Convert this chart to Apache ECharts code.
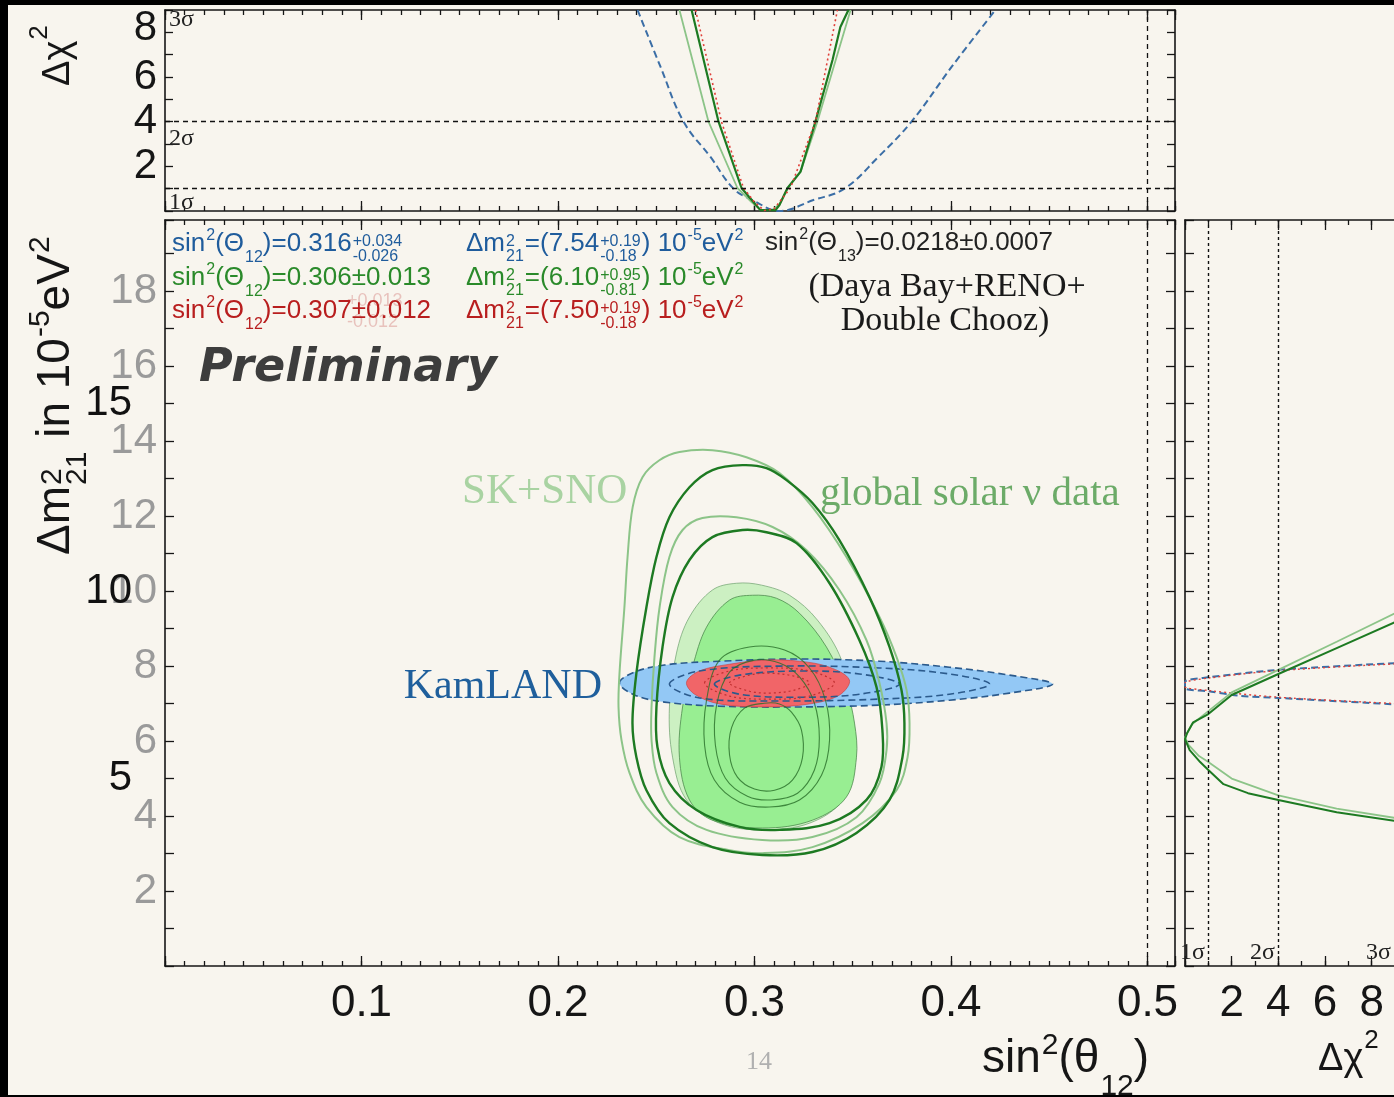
<!DOCTYPE html>
<html>
<head>
<meta charset="utf-8">
<style>
html, body { margin: 0; padding: 0; background: #000; }
#chart { width: 1394px; height: 1097px; }
</style>
<script src="https://cdn.jsdelivr.net/npm/echarts@6/dist/echarts.min.js"></script>
</head>
<body>
<div id="chart"></div>
<script>
// ---- top panel: delta chi2 vs sin2(theta12) ----
const topKamLAND = [[0.2405, 9.0], [0.2522, 6.45], [0.2639, 4.0], [0.2776, 2.42], [0.2893, 1.0], [0.299, 0.49], [0.3127, 0.0], [0.330, 0.49], [0.3458, 1.0], [0.363, 2.42], [0.3799, 4.0], [0.4003, 6.45], [0.4226, 9.0]];
const topSKSNO = [[0.2618, 9.0], [0.2766, 4.0], [0.2913, 1.03], [0.2985, 0.4], [0.303, 0.05], [0.309, 0.05], [0.3127, 0.3], [0.317, 1.03], [0.3236, 1.8], [0.332, 4.0], [0.3489, 9.0]];
const topSolar = [[0.268, 9.0], [0.2817, 4.0], [0.2934, 1.03], [0.299, 0.45], [0.303, 0.04], [0.3107, 0.04], [0.3127, 0.27], [0.3168, 1.03], [0.3234, 1.75], [0.331, 4.0], [0.3397, 6.76], [0.3437, 8.24], [0.3478, 9.0]];
const topCombined = [[0.27, 9.0], [0.2832, 4.0], [0.2944, 1.03], [0.3, 0.4], [0.305, 0.02], [0.31, 0.1], [0.3183, 1.03], [0.331, 4.0], [0.3422, 9.0]];

// ---- right panel: delta chi2 vs dm2_21 ----
const rightSolar = [[9, 9.17], [6.5, 8.48], [4, 7.79], [2, 7.23], [1, 6.72], [0.35, 6.5], [0.08, 6.2], [0, 6.05], [0.2, 5.76], [0.65, 5.44], [1, 5.23], [1.65, 4.85], [2.7, 4.61], [4, 4.43], [6.5, 4.1], [9, 3.87]];
const rightSKSNO = [[9, 9.41], [6.5, 8.65], [4, 7.9], [2, 7.3], [1, 6.8], [0.3, 6.45], [0, 6.1], [0.15, 5.9], [0.6, 5.6], [1, 5.44], [2, 5.0], [4, 4.55], [6.5, 4.2], [9, 3.95]];
const rightKamLAND = [[9, 8.08], [4, 7.9], [1, 7.7], [0, 7.58], [0, 7.41], [1, 7.33], [2.3, 7.21], [4, 7.15], [9, 6.98]];
const rightCombined = [[9, 8.06], [4, 7.88], [1, 7.68], [0, 7.55], [0, 7.45], [1, 7.35], [4, 7.17], [9, 7.0]];

// ---- main panel contours [sin2, dm2] ----
const skSno3 = [[0.2618, 13.71], [0.2516, 13.49], [0.243, 13.04], [0.238, 12.24], [0.2354, 10.91], [0.2338, 9.57], [0.2313, 7.81], [0.2308, 6.91], [0.2323, 6.03], [0.2364, 5.15], [0.245, 4.24], [0.2618, 3.44], [0.2873, 3.09], [0.304, 3.01], [0.3295, 3.17], [0.355, 3.81], [0.3723, 4.69], [0.3779, 5.57], [0.3789, 6.48], [0.3774, 7.36], [0.3723, 8.24], [0.3636, 9.31], [0.3468, 10.91], [0.3295, 12.24], [0.3127, 13.15], [0.2959, 13.57], [0.2786, 13.76]];
const solar3 = [[0.2939, 13.36], [0.2786, 13.23], [0.2669, 12.77], [0.2567, 11.97], [0.2501, 10.91], [0.245, 9.57], [0.2399, 7.81], [0.2379, 6.48], [0.2399, 5.57], [0.245, 4.69], [0.2567, 3.81], [0.2786, 3.17], [0.304, 2.96], [0.3295, 3.04], [0.3519, 3.55], [0.3687, 4.43], [0.3753, 5.57], [0.3763, 6.48], [0.3748, 7.36], [0.3687, 8.51], [0.3585, 9.84], [0.3432, 11.36], [0.3295, 12.35], [0.3163, 12.96], [0.3061, 13.28]];
const skSno2 = [[0.2735, 11.95], [0.2634, 11.63], [0.2567, 10.91], [0.2517, 9.57], [0.2491, 8.24], [0.2476, 6.91], [0.2476, 6.03], [0.2501, 5.15], [0.2583, 4.24], [0.2756, 3.63], [0.304, 3.36], [0.3295, 3.44], [0.3519, 3.97], [0.3636, 4.88], [0.3672, 5.76], [0.3672, 6.48], [0.3636, 7.55], [0.357, 8.69], [0.3432, 10.03], [0.3265, 11.09], [0.3092, 11.71], [0.2908, 11.97]];
const solar2 = [[0.2939, 11.63], [0.2786, 11.44], [0.2669, 10.83], [0.2583, 9.84], [0.2532, 8.51], [0.2501, 6.91], [0.2506, 5.84], [0.2567, 4.88], [0.2705, 4.16], [0.2924, 3.71], [0.3127, 3.63], [0.3382, 3.81], [0.357, 4.43], [0.3646, 5.31], [0.3651, 6.29], [0.3621, 7.44], [0.3534, 8.69], [0.3382, 10.21], [0.3214, 11.28], [0.3061, 11.57]];
const paleFill = [[0.2908, 10.21], [0.2786, 10.03], [0.2669, 9.31], [0.2603, 8.35], [0.2567, 6.91], [0.2583, 5.57], [0.2654, 4.43], [0.2822, 3.81], [0.304, 3.63], [0.328, 3.81], [0.3448, 4.43], [0.3499, 5.57], [0.3489, 6.83], [0.3443, 8.16], [0.332, 9.23], [0.3178, 9.89], [0.3036, 10.16]];
const brightFill = [[0.299, 9.89], [0.2873, 9.76], [0.2756, 9.04], [0.2684, 7.97], [0.2634, 6.91], [0.2618, 5.57], [0.2669, 4.43], [0.2786, 3.89], [0.304, 3.68], [0.3295, 3.89], [0.3468, 4.51], [0.3519, 5.57], [0.3509, 6.48], [0.3468, 7.36], [0.3366, 8.51], [0.3229, 9.41], [0.3112, 9.81]];
const loopA = [[0.2974, 8.51], [0.2822, 8.16], [0.2756, 7.09], [0.2746, 5.89], [0.2796, 4.96], [0.2924, 4.37], [0.3076, 4.24], [0.3229, 4.43], [0.3341, 5.09], [0.3382, 6.03], [0.3361, 7.09], [0.328, 7.95], [0.3153, 8.43]];
const loopB = [[0.2999, 8.16], [0.2873, 7.84], [0.2807, 6.96], [0.2801, 5.89], [0.2852, 5.01], [0.2964, 4.53], [0.3086, 4.43], [0.3219, 4.61], [0.3305, 5.23], [0.333, 6.08], [0.3305, 7.01], [0.3229, 7.71], [0.3127, 8.08]];
const loopC = [[0.3051, 7.01], [0.2949, 6.88], [0.2883, 6.35], [0.2873, 5.63], [0.2913, 5.04], [0.3, 4.72], [0.3102, 4.69], [0.3193, 4.96], [0.3244, 5.55], [0.3239, 6.29], [0.3188, 6.77], [0.3127, 6.99]];
const kam3 = [[0.2313, 7.55], [0.2389, 7.84], [0.2542, 8.03], [0.2822, 8.13], [0.3229, 8.19], [0.3636, 8.13], [0.3992, 7.97], [0.4298, 7.76], [0.4517, 7.52], [0.4298, 7.28], [0.3992, 7.09], [0.3636, 6.96], [0.3229, 6.91], [0.2822, 6.93], [0.2542, 7.04], [0.2389, 7.23]];
const kam2 = [[0.2567, 7.52], [0.272, 7.87], [0.3127, 8.0], [0.3636, 7.95], [0.3992, 7.79], [0.4196, 7.52], [0.3992, 7.25], [0.3636, 7.12], [0.3127, 7.07], [0.272, 7.15]];
const kam1 = [[0.2796, 7.52], [0.2924, 7.76], [0.3229, 7.87], [0.3534, 7.79], [0.3738, 7.52], [0.3534, 7.25], [0.3229, 7.17], [0.2924, 7.25]];
const comb3 = [[0.2654, 7.57], [0.272, 7.87], [0.2873, 8.05], [0.3051, 8.16], [0.3229, 8.13], [0.3382, 7.97], [0.3483, 7.63], [0.3433, 7.23], [0.328, 6.99], [0.3051, 6.91], [0.2822, 6.99], [0.2695, 7.25]];
const comb2 = [[0.2746, 7.55], [0.2873, 7.87], [0.3076, 7.95], [0.328, 7.87], [0.3407, 7.55], [0.328, 7.2], [0.3076, 7.12], [0.2873, 7.2]];
const comb1 = [[0.2873, 7.55], [0.2975, 7.76], [0.3076, 7.81], [0.3203, 7.73], [0.328, 7.55], [0.3203, 7.36], [0.3076, 7.28], [0.2975, 7.33]];

const xTickLabels = ['0.1', '0.2', '0.3', '0.4', '0.5'];
const chiTickLabels = ['2', '4', '6', '8'];

const SANS = '"Liberation Sans", Arial, sans-serif';
const SERIF = '"Liberation Serif", "Times New Roman", serif';
const INK = '#161616';

// text measuring for the formula-like labels
const mctx = document.createElement('canvas').getContext('2d');
function tw(t, font) { mctx.font = font; return mctx.measureText(t).width; }

function txt(t, font, color, x, y, align) {
  return { type: 'text', x: x, y: y, silent: true, z: 50,
    style: { text: t, font: font, fill: color, align: align || 'left', verticalAlign: 'middle' } };
}

// parts: string | {sup} | {sub} | {up, dn}; y is the baseline
function mathText(x, y, parts, o) {
  const big = o.size + 'px ' + o.family, sm = o.small + 'px ' + o.family;
  const out = [];
  let cx = x;
  parts.forEach(function (p) {
    if (typeof p === 'string') {
      out.push(txt(p, big, o.color, cx, y - 0.35 * o.size)); cx += tw(p, big);
    } else if (p.sup !== undefined) {
      out.push(txt(p.sup, sm, o.color, cx + 1, y - (o.supDy || 0.68) * o.size)); cx += tw(p.sup, sm) + 1;
    } else if (p.sub !== undefined) {
      out.push(txt(p.sub, sm, o.color, cx + 1, y + (o.subDy || 0.2) * o.size)); cx += tw(p.sub, sm) + 1;
    } else {
      out.push(txt(p.up, sm, o.color, cx + 1, y - 0.42 * o.size));
      out.push(txt(p.dn, sm, o.color, cx + 1, y + 0.12 * o.size));
      cx += Math.max(tw(p.up, sm), tw(p.dn, sm)) + 2;
    }
  });
  return out;
}

const legendOpt = { size: 26, small: 16, family: SANS, subDy: 0.17 };
function opt(color) { return Object.assign({}, legendOpt, { color: color }); }
const BLUE = '#1f5c9c', GREEN = '#2a8a2a', RED = '#b81e1e';

let graphics = [
  { type: 'rect', z: -10, silent: true, shape: { x: 8, y: 5, width: 1386, height: 1090 }, style: { fill: '#f8f5ee' } }
];
graphics = graphics.concat(
  mathText(172, 253, ['sin', { sup: '2' }, '(Θ', { sub: '12' }, ')=0.316', { up: '+0.034', dn: '-0.026' }], opt(BLUE)),
  mathText(466, 253, ['Δm', { up: '2', dn: '21' }, '=(7.54', { up: '+0.19', dn: '-0.18' }, ') 10', { sup: '-5' }, 'eV', { sup: '2' }], opt(BLUE)),
  mathText(172, 287, ['sin', { sup: '2' }, '(Θ', { sub: '12' }, ')=0.306±0.013'], opt(GREEN)),
  mathText(466, 287, ['Δm', { up: '2', dn: '21' }, '=(6.10', { up: '+0.95', dn: '-0.81' }, ') 10', { sup: '-5' }, 'eV', { sup: '2' }], opt(GREEN)),
  [txt('+0.013', '18px ' + SANS, 'rgba(190,60,60,0.28)', 347, 301), txt('-0.012', '18px ' + SANS, 'rgba(190,60,60,0.28)', 347, 322)],
  mathText(172, 320, ['sin', { sup: '2' }, '(Θ', { sub: '12' }, ')=0.307±0.012'], opt(RED)),
  mathText(466, 320, ['Δm', { up: '2', dn: '21' }, '=(7.50', { up: '+0.19', dn: '-0.18' }, ') 10', { sup: '-5' }, 'eV', { sup: '2' }], opt(RED)),
  mathText(765, 252, ['sin', { sup: '2' }, '(Θ', { sub: '13' }, ')=0.0218±0.0007'], opt('#222')),
  [
    txt('(Daya Bay+RENO+', '34px ' + SERIF, '#1a1a1a', 947, 287, 'center'),
    txt('Double Chooz)', '34px ' + SERIF, '#1a1a1a', 945, 321, 'center'),
    txt('Preliminary', 'italic bold 46px "DejaVu Sans", sans-serif', '#3d3d3d', 199, 369),
    txt('SK+SNO', '43px ' + SERIF, '#a9d3a2', 462, 492),
    txt('global solar ν data', '41px ' + SERIF, '#6cab68', 820, 494),
    txt('KamLAND', '42px ' + SERIF, '#1f5f9c', 602, 687, 'right'),
    txt('3σ', '24px ' + SERIF, '#222', 169, 20),
    txt('2σ', '24px ' + SERIF, '#222', 169, 139),
    txt('1σ', '24px ' + SERIF, '#222', 169, 203),
    txt('1σ', '24px ' + SERIF, '#222', 1180, 953),
    txt('2σ', '24px ' + SERIF, '#222', 1250, 953),
    txt('3σ', '24px ' + SERIF, '#222', 1366, 953),
    txt('14', '26px ' + SERIF, '#b0b0b0', 759, 1062, 'center')
  ],
  mathText(982, 1075, ['sin', { sup: '2' }, '(θ', { sub: '12' }, ')'], { size: 46, small: 30, family: SANS, color: INK, supDy: 0.64, subDy: 0.26 }),
  mathText(1318, 1073, ['Δχ', { sup: '2' }], { size: 38, small: 26, family: SANS, color: INK, supDy: 0.85 }),
  [
    { type: 'group', x: 72, y: 555, rotation: Math.PI / 2,
      children: mathText(0, 0, ['Δm', { up: '2', dn: '21' }, ' in 10', { sup: '-5' }, 'eV', { sup: '2' }], { size: 46, small: 30, family: SANS, color: INK }) },
    { type: 'group', x: 72, y: 86, rotation: Math.PI / 2,
      children: mathText(0, 0, ['Δχ', { sup: '2' }], { size: 38, small: 26, family: SANS, color: INK, supDy: 0.85 }) }
  ]
);

function tickAxis(grid, pos, min, max, interval, len, showLine) {
  return {
    type: 'value', gridIndex: grid, position: pos, min: min, max: max, interval: interval,
    axisLine: { show: showLine, onZero: false, lineStyle: { color: INK, width: 1.6 } },
    axisTick: { show: true, inside: true, length: len, lineStyle: { color: INK, width: 1.3 } },
    axisLabel: { show: false },
    splitLine: { show: false }
  };
}

const SMAX = 0.514, MMAX = 19.9, CMAX = 9;

const xMainLabels = tickAxis(1, 'bottom', 0, SMAX, 0.1, 10, true);
xMainLabels.axisLabel = {
  show: true, margin: 16, fontSize: 44, fontFamily: SANS, color: INK,
  formatter: function (v) {
    const r = Math.round(v * 10);
    return (r >= 1 && r <= 5 && Math.abs(v * 10 - r) < 1e-6) ? xTickLabels[r - 1] : '';
  }
};
const xChiLabels = tickAxis(2, 'bottom', 0, CMAX, 2, 10, true);
xChiLabels.axisLabel = {
  show: true, margin: 16, fontSize: 44, fontFamily: SANS, color: INK,
  formatter: function (v) {
    const i = chiTickLabels.indexOf(String(v));
    return i >= 0 ? chiTickLabels[i] : '';
  }
};

const yTop = tickAxis(0, 'left', 0, CMAX, 1, 8, true);
yTop.axisLabel = {
  show: true, margin: 8, fontSize: 42, fontFamily: SANS, color: INK,
  formatter: function (v) {
    if (v === 8) return '{u|8}';
    return (v > 0 && v < 8 && v % 2 === 0) ? String(v) : '';
  },
  rich: { u: { fontSize: 42, fontFamily: SANS, color: INK, padding: [0, 0, 8, 0] } }
};
const yMainGrey = tickAxis(1, 'left', 0, MMAX, 1, 9, true);
yMainGrey.axisLabel = {
  show: true, margin: 8, fontSize: 42, fontFamily: SANS, color: '#9a9a9a',
  formatter: function (v) { return (v > 0 && v < 19 && v % 2 === 0) ? String(v) : ''; }
};
const yMainBlack = {
  type: 'value', gridIndex: 1, position: 'left', min: 0, max: MMAX, interval: 5,
  axisLine: { show: false }, axisTick: { show: false }, splitLine: { show: false },
  axisLabel: { show: true, margin: 33, fontSize: 42, fontFamily: SANS, color: '#111',
    formatter: function (v) { return (v === 5 || v === 10 || v === 15) ? String(v) : ''; } }
};

const markStyle = { silent: true, symbol: ['none', 'none'], label: { show: false }, animation: false };

function contour(points, style) {
  return {
    type: 'custom', coordinateSystem: 'cartesian2d', xAxisIndex: 5, yAxisIndex: 2,
    silent: true, clip: true, data: [points[0]],
    renderItem: function (params, api) {
      return { type: 'polygon', shape: { points: points.map(function (p) { return api.coord(p); }), smooth: 0.35 }, style: style };
    }
  };
}

const lightLine = { fill: 'none', stroke: '#8cc488', lineWidth: 2 };
const darkLine = { fill: 'none', stroke: '#1d7a22', lineWidth: 2.4 };
const thinLine = { fill: 'none', stroke: 'rgba(40,110,40,0.8)', lineWidth: 1.1 };

const option = {
  animation: false,
  backgroundColor: '#000',
  graphic: { elements: graphics },
  grid: [
    { left: 165, top: 10, width: 1010, height: 201, outerBoundsMode: 'none' },
    { left: 165, top: 220, width: 1010, height: 746, outerBoundsMode: 'none' },
    { left: 1185, top: 220, width: 210, height: 746, outerBoundsMode: 'none' }
  ],
  xAxis: [
    tickAxis(0, 'bottom', 0, SMAX, 0.01, 5, false),
    tickAxis(0, 'bottom', 0, SMAX, 0.1, 10, true),
    tickAxis(0, 'top', 0, SMAX, 0.01, 5, false),
    tickAxis(0, 'top', 0, SMAX, 0.1, 10, true),
    tickAxis(1, 'bottom', 0, SMAX, 0.01, 5, false),
    xMainLabels,
    tickAxis(1, 'top', 0, SMAX, 0.01, 5, false),
    tickAxis(1, 'top', 0, SMAX, 0.1, 10, true),
    tickAxis(2, 'bottom', 0, CMAX, 1, 5, false),
    xChiLabels,
    tickAxis(2, 'top', 0, CMAX, 1, 5, false),
    tickAxis(2, 'top', 0, CMAX, 2, 10, true)
  ],
  yAxis: [
    yTop,
    tickAxis(0, 'right', 0, CMAX, 1, 8, true),
    yMainGrey,
    yMainBlack,
    tickAxis(1, 'right', 0, MMAX, 1, 9, true),
    tickAxis(2, 'left', 0, MMAX, 1, 9, true)
  ],
  series: [
    // top panel
    { type: 'line', name: 'KamLAND', xAxisIndex: 1, yAxisIndex: 0, data: topKamLAND, symbol: 'none', smooth: 0.4,
      lineStyle: { color: '#3b6ea6', width: 2, type: [7, 4] },
      markLine: Object.assign({}, markStyle, { lineStyle: { color: '#111', width: 1.3, type: [5, 4] },
        data: [{ yAxis: 1 }, { yAxis: 4 }, { xAxis: 0.5 }] }) },
    { type: 'line', name: 'SK+SNO', xAxisIndex: 1, yAxisIndex: 0, data: topSKSNO, symbol: 'none',
      lineStyle: { color: '#8cc488', width: 1.8 } },
    { type: 'line', name: 'global solar', xAxisIndex: 1, yAxisIndex: 0, data: topSolar, symbol: 'none',
      lineStyle: { color: '#1d7a22', width: 2.2 } },
    { type: 'line', name: 'combined', xAxisIndex: 1, yAxisIndex: 0, data: topCombined, symbol: 'none',
      lineStyle: { color: '#e0403a', width: 1.6, type: [2, 3] } },

    // main panel
    contour(paleFill, { fill: '#ccf0c2', stroke: 'rgba(110,160,110,0.7)', lineWidth: 1 }),
    contour(brightFill, { fill: '#98ee92', stroke: 'rgba(80,140,80,0.8)', lineWidth: 1 }),
    contour(kam3, { fill: '#93c8f5', stroke: '#2b5a8c', lineWidth: 1.6, lineDash: [7, 4], blend: 'multiply' }),
    contour(comb3, { fill: 'rgba(246,96,96,0.95)', stroke: 'rgba(200,60,60,0.6)', lineWidth: 1 }),
    contour(kam2, { fill: 'none', stroke: '#2b5a8c', lineWidth: 1.6, lineDash: [7, 4] }),
    contour(kam1, { fill: 'none', stroke: '#2b5a8c', lineWidth: 1.6, lineDash: [7, 4] }),
    contour(comb2, { fill: 'none', stroke: '#c03030', lineWidth: 1.2, lineDash: [2, 3] }),
    contour(comb1, { fill: 'none', stroke: '#c03030', lineWidth: 1.2, lineDash: [2, 3] }),
    contour(loopA, thinLine),
    contour(loopB, thinLine),
    contour(loopC, thinLine),
    contour(skSno3, lightLine),
    contour(skSno2, lightLine),
    contour(solar3, darkLine),
    contour(solar2, darkLine),
    { type: 'line', xAxisIndex: 5, yAxisIndex: 2, data: [[0.5, -1]], symbol: 'none', lineStyle: { opacity: 0 },
      markLine: Object.assign({}, markStyle, { lineStyle: { color: '#111', width: 1.3, type: [5, 4] }, data: [{ xAxis: 0.5 }] }) },

    // right panel
    { type: 'line', xAxisIndex: 9, yAxisIndex: 5, data: rightKamLAND, symbol: 'none', smooth: 0.3,
      lineStyle: { color: '#3b6ea6', width: 2, type: [7, 4] },
      markLine: Object.assign({}, markStyle, { lineStyle: { color: '#111', width: 1.4, type: [3, 3] }, data: [{ xAxis: 1 }, { xAxis: 4 }] }) },
    { type: 'line', xAxisIndex: 9, yAxisIndex: 5, data: rightCombined, symbol: 'none', smooth: 0.3,
      lineStyle: { color: '#e0403a', width: 1.4, type: [2, 3] } },
    { type: 'line', xAxisIndex: 9, yAxisIndex: 5, data: rightSKSNO, symbol: 'none',
      lineStyle: { color: '#8cc488', width: 1.8 } },
    { type: 'line', xAxisIndex: 9, yAxisIndex: 5, data: rightSolar, symbol: 'none',
      lineStyle: { color: '#1d7a22', width: 2 } }
  ]
};

const chart = echarts.init(document.getElementById('chart'));
chart.setOption(option);
</script>
</body>
</html>
